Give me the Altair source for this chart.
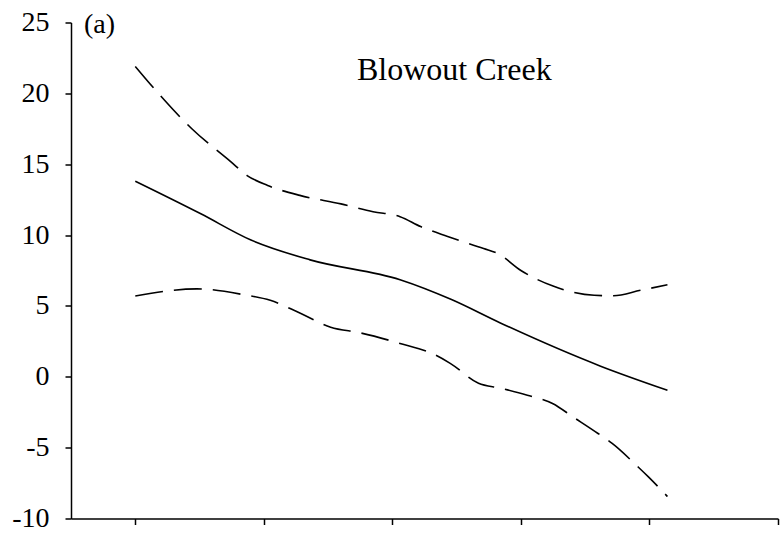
import altair as alt
import pandas as pd

# Horizontal positions are in axis slots (ticks sit at 0.5, 1.5, ... 5.5)
mid_x = [0.50, 1.01, 1.40, 1.86, 2.56, 2.96, 3.34, 4.12, 4.64]
mid_y = [13.8, 11.5, 9.65, 8.25, 6.85, 5.45, 3.8, 0.75, -0.95]

upper_x = [0.50, 0.67, 0.94, 1.24, 1.37, 1.53, 1.78, 2.10, 2.35, 2.56,
           2.72, 2.93, 3.21, 3.32, 3.50, 3.75, 4.07, 4.22, 4.43, 4.64]
upper_y = [21.9, 20.1, 17.5, 15.2, 14.2, 13.5, 12.8, 12.2, 11.65, 11.3,
           10.6, 9.9, 9.05, 8.7, 7.5, 6.4, 5.75, 5.72, 6.1, 6.5]

lower_x = [0.50, 0.98, 1.34, 1.55, 1.78, 2.02, 2.25, 2.56, 2.82, 2.95,
           3.17, 3.34, 3.55, 3.75, 3.90, 4.10, 4.21, 4.41, 4.49, 4.64]
lower_y = [5.7, 6.2, 5.8, 5.4, 4.5, 3.5, 3.1, 2.35, 1.6, 0.95,
           -0.45, -0.8, -1.3, -1.9, -2.8, -4.0, -4.7, -6.35, -7.05, -8.45]

y_ticks = [-10, -5, 0, 5, 10, 15, 20, 25]
x_ticks = [0.5, 1.5, 2.5, 3.5, 4.5, 5.5]

FONT = "Liberation Serif"

mid = pd.DataFrame({"x": mid_x, "y": mid_y})
bands = pd.concat([
    pd.DataFrame({"x": upper_x, "y": upper_y, "band": "upper"}),
    pd.DataFrame({"x": lower_x, "y": lower_y, "band": "lower"}),
])

x_enc = alt.X("x:Q", scale=alt.Scale(domain=[0, 5.5], nice=False, zero=False),
              axis=alt.Axis(values=x_ticks, labels=False, title=None, grid=False,
                            tickSize=6, tickWidth=1.5, tickColor="black",
                            domainColor="black", domainWidth=1.5))
y_enc = alt.Y("y:Q", scale=alt.Scale(domain=[-10, 25], nice=False, zero=False),
              axis=alt.Axis(values=y_ticks, title=None, grid=False,
                            labelExpr="'' + datum.value",
                            labelFont=FONT, labelFontSize=28, labelColor="black",
                            labelPadding=16, tickSize=6, tickWidth=1.5,
                            tickColor="black", domainColor="black", domainWidth=1.5))

solid = alt.Chart(mid).mark_line(color="black", strokeWidth=1.6,
                                 interpolate="monotone").encode(x=x_enc, y=y_enc)

dashed = alt.Chart(bands).mark_line(color="black", strokeWidth=1.6,
                                    strokeDash=[28, 11],
                                    interpolate="monotone").encode(
    x=x_enc, y=y_enc, detail="band:N")

panel_tag = alt.Chart(pd.DataFrame({"t": ["(a)"]})).mark_text(
    font=FONT, fontSize=28, align="left", baseline="alphabetic", color="black"
).encode(x=alt.value(13), y=alt.value(10), text="t:N")

site = alt.Chart(pd.DataFrame({"t": ["Blowout Creek"]})).mark_text(
    font=FONT, fontSize=32, align="left", baseline="alphabetic", color="black"
).encode(x=alt.value(286), y=alt.value(57.5), text="t:N")

chart = alt.layer(solid, dashed, panel_tag, site).properties(
    width=707, height=496,
    autosize=alt.AutoSizeParams(type="none"),
    padding={"left": 71, "top": 22.5, "right": 2, "bottom": 18.5},
    background="white",
).configure_view(stroke=None)

chart.save("out.html", embed_options={"renderer": "svg", "actions": False})
